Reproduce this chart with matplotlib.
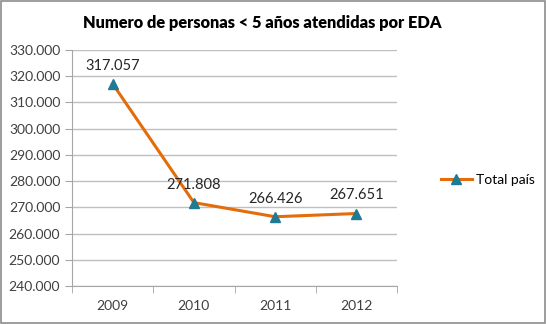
import numpy as np
import matplotlib.pyplot as plt
from matplotlib.ticker import FuncFormatter, FixedLocator

plt.rcParams['font.family'] = ['Lato', 'DejaVu Sans']

years = ["2009", "2010", "2011", "2012"]
total_pais = [317057, 271808, 266426, 267651]

def fmt_miles(v, pos=None):
    return f"{int(round(v)):,}".replace(",", ".")

fig = plt.figure(figsize=(5.46, 3.24), dpi=100)
fig.patches.append(plt.Rectangle((0.002, 0.003), 0.996, 0.994, transform=fig.transFigure,
                                 fill=False, edgecolor="#8c8c8c", linewidth=1.2))
ax = fig.add_axes([0.132, 0.117, 0.595, 0.729])

x = np.arange(len(years))
ax.plot(x, total_pais, color="#e46c0a", linewidth=2.2, marker="^", markersize=7,
        markerfacecolor="#1f7a94", markeredgecolor="#1f7a94", label="Total país", zorder=3)

for xi, v in zip(x, total_pais):
    ax.annotate(fmt_miles(v), (xi, v), xytext=(0, 8), textcoords="offset points",
                ha="center", va="bottom", fontsize=10.5, color="#262626")

ax.set_xlim(-0.5, len(years) - 0.5)
ax.set_ylim(240000, 330000)
ax.set_yticks(np.arange(240000, 330001, 10000))
ax.yaxis.set_major_formatter(FuncFormatter(fmt_miles))
ax.set_xticks(x)
ax.set_xticklabels(years)
ax.xaxis.set_minor_locator(FixedLocator(np.arange(-0.5, len(years), 1.0)))

ax.grid(axis="y", color="#bfbfbf", linewidth=1.0)
ax.set_axisbelow(True)
for side in ["top", "right"]:
    ax.spines[side].set_visible(False)
for side in ["left", "bottom"]:
    ax.spines[side].set_color("#a6a6a6")
ax.tick_params(axis="x", which="major", length=0, labelsize=10, labelcolor="#404040", pad=10)
ax.tick_params(axis="x", which="minor", length=5, color="#a6a6a6", direction="out")
ax.tick_params(axis="y", length=5, color="#a6a6a6", labelsize=10, labelcolor="#404040")

fig.text(0.481, 0.93, "Numero de personas < 5 años atendidas por EDA", ha="center", va="center",
         fontsize=11.8, fontweight="heavy", color="#000000")

fig.legend(loc="center left", bbox_to_anchor=(0.785, 0.445), frameon=False, fontsize=10,
           handlelength=2.2, handletextpad=0.3)

fig.savefig("out.png", dpi=100)
